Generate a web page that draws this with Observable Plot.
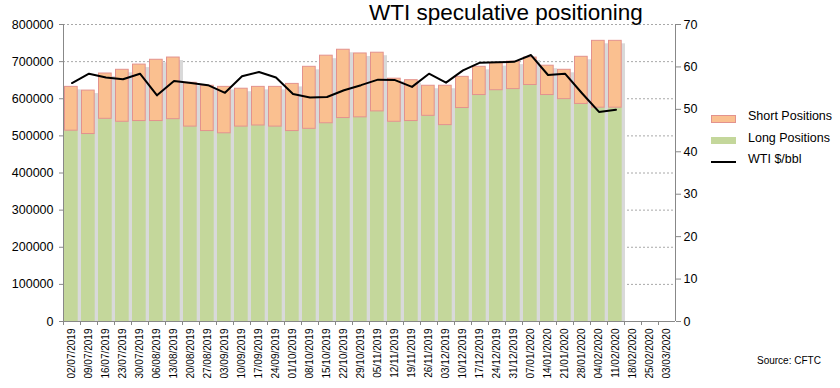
<!DOCTYPE html>
<html>
<head>
<meta charset="utf-8">
<script src="https://cdn.jsdelivr.net/npm/d3@7"></script>
<script src="https://cdn.jsdelivr.net/npm/@observablehq/plot@0.6"></script>
<style>
  html, body { margin: 0; padding: 0; background: #fff; }
  #wrap { position: relative; width: 840px; height: 388px; font-family: "Liberation Sans", Arial, sans-serif; }
  #title { position: absolute; left: 369px; top: 0px; font-size: 22.5px; color: #000; white-space: nowrap; }
  #legend { position: absolute; left: 711px; top: 108px; font-size: 12.5px; color: #000; }
  .item { position: relative; height: 21.5px; }
  .sw { position: absolute; left: 0; width: 25px; }
  .lab { position: absolute; left: 37px; top: 1px; white-space: nowrap; }
  #source { position: absolute; left: 757px; top: 355px; font-size: 10px; color: #000; white-space: nowrap; }
</style>
</head>
<body>
<div id="wrap">
  <div id="chart"></div>
  <div id="title">WTI speculative positioning</div>
  <div id="legend">
    <div class="item"><div class="sw" style="top:7px;height:6px;background:#fac090;border:1px solid #e3928d;width:23px"></div><div class="lab">Short Positions</div></div>
    <div class="item"><div class="sw" style="top:7px;height:7px;background:#c4d79b"></div><div class="lab">Long Positions</div></div>
    <div class="item"><div class="sw" style="top:10px;height:2px;background:#000"></div><div class="lab">WTI $/bbl</div></div>
  </div>
  <div id="source">Source: CFTC</div>
</div>
<script>
const dates = ["02/07/2019","09/07/2019","16/07/2019","23/07/2019","30/07/2019","06/08/2019","13/08/2019","20/08/2019","27/08/2019","03/09/2019","10/09/2019","17/09/2019","24/09/2019","01/10/2019","08/10/2019","15/10/2019","22/10/2019","29/10/2019","05/11/2019","12/11/2019","19/11/2019","26/11/2019","03/12/2019","10/12/2019","17/12/2019","24/12/2019","31/12/2019","07/01/2020","14/01/2020","21/01/2020","28/01/2020","04/02/2020","11/02/2020","18/02/2020","25/02/2020","03/03/2020"];

const longPositions = [514000,505000,546000,538000,540000,540000,545000,525000,513000,507000,525000,528000,525000,513000,519000,534000,548000,550000,566000,538000,540000,554000,529000,575000,610000,623000,626000,637000,610000,599000,586000,576000,576000];

const shortPositions = [118000,117000,122000,140000,152000,165000,166000,118000,122000,125000,102000,104000,107000,127000,167000,182000,184000,172000,158000,116000,110000,81000,106000,84000,76000,73000,74000,74000,79000,79000,127000,180000,180000];

const wti = [56.2,58.4,57.5,57.1,58.4,53.3,56.7,56.2,55.7,53.9,57.8,58.8,57.5,53.6,52.8,52.9,54.5,55.7,57.0,56.9,55.3,58.4,56.3,59.2,61.0,61.1,61.2,62.8,58.1,58.4,53.8,49.4,49.9];

const leftTicks = [0,100000,200000,300000,400000,500000,600000,700000,800000];
const rightTicks = [0,10,20,30,40,50,60,70];

const LMAX = 800000, RMAX = 70;
const toLeft = v => v * LMAX / RMAX;

const totals = longPositions.map((v, i) => v + shortPositions[i]);

const chart = Plot.plot({
  width: 840,
  height: 388,
  marginLeft: 63,
  marginRight: 165,
  marginTop: 24,
  marginBottom: 67,
  style: { fontFamily: "Liberation Sans, Arial, sans-serif", fontSize: "12.5px", background: "white", color: "#000" },
  x: { type: "band", domain: dates, padding: 0 },
  y: { domain: [0, LMAX] },
  marks: [
    Plot.gridY(leftTicks.slice(1), { stroke: "#a8a8a8", strokeOpacity: 1, strokeDasharray: "2,2" }),
    Plot.barY(totals, { x: (d, i) => dates[i], y: d => d, fill: "#d9d9d9", insetLeft: 3, insetRight: -1, insetTop: 3 }),
    Plot.barY(longPositions, { x: (d, i) => dates[i], y: d => d, fill: "#c4d79b", insetLeft: 1, insetRight: 2.3 }),
    Plot.barY(shortPositions, { x: (d, i) => dates[i], y1: (d, i) => longPositions[i], y2: (d, i) => longPositions[i] + d, fill: "#fac090", stroke: "#e3928d", strokeWidth: 1, insetLeft: 1.5, insetRight: 2.8 }),
    Plot.lineY(wti, { x: (d, i) => dates[i], y: d => toLeft(d), stroke: "#000", strokeWidth: 2 }),
    Plot.ruleY([0], { stroke: "#888" }),
    Plot.ruleX([dates[0]], { dx: -8.5, stroke: "#888" }),
    Plot.ruleX([dates[dates.length - 1]], { dx: 8.5, stroke: "#888" }),
    Plot.axisY(leftTicks, { anchor: "left", tickSize: 4, tickPadding: 6, stroke: "#888", fontSize: 12.5, tickFormat: d => String(d), label: null }),
    Plot.axisY(rightTicks.map(toLeft), { anchor: "right", tickSize: 5, tickPadding: 3, stroke: "#888", fontSize: 12.5, tickFormat: d => String(Math.round(d * RMAX / LMAX)), label: null }),
    Plot.axisX({ tickRotate: -90, tickSize: 0, tickPadding: 7, fontSize: 10, label: null }),
    Plot.axisX({ tickSize: 4, tickFormat: () => "", dx: -8.5, stroke: "#888", label: null })
  ]
});
document.getElementById("chart").appendChild(chart);
</script>
</body>
</html>
